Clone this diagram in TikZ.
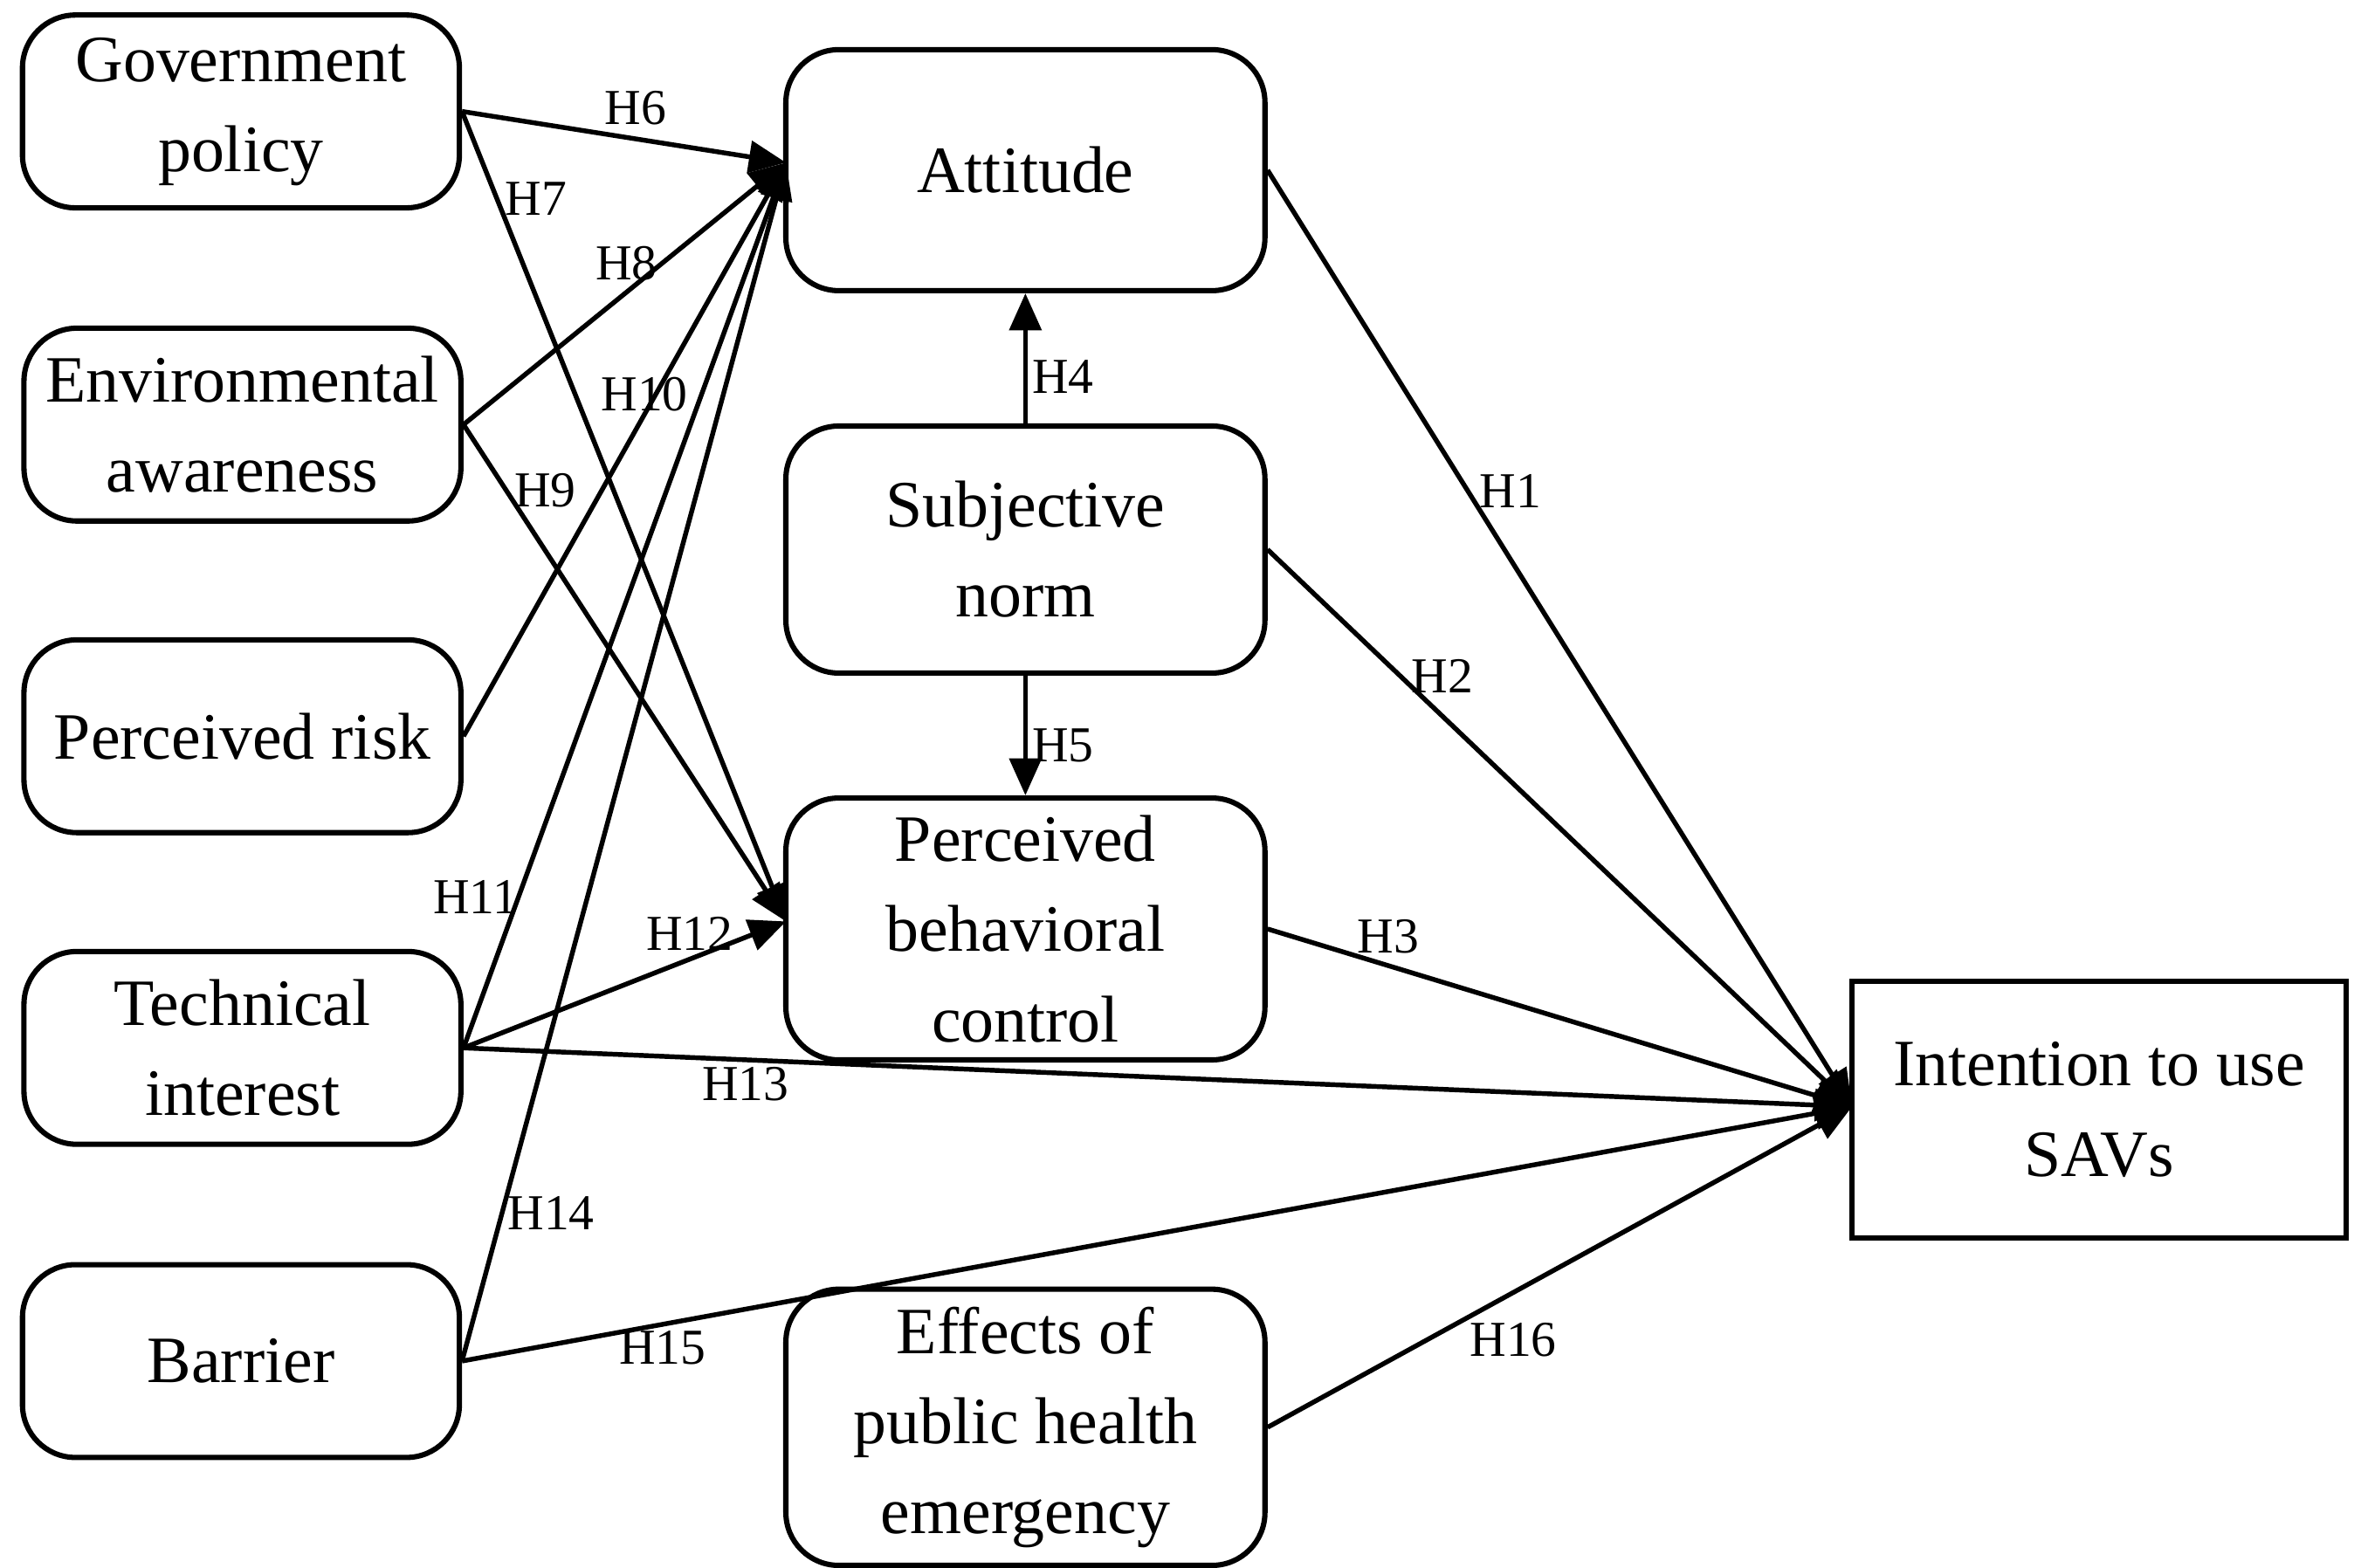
\documentclass[tikz,border=0pt]{standalone}
\usepackage{fontspec}
\setmainfont{Liberation Serif}
\usetikzlibrary{arrows.meta}
\tikzset{
    box/.style={draw, rounded corners=10pt, line width=1pt, align=center, font=\fontsize{12.5}{17}\selectfont},
    link/.style={line width=0.9pt, -{Triangle[length=7pt, width=6pt]}},
    hyp/.style={font=\fontsize{9.5}{11}\selectfont, inner sep=1pt}
}
\begin{document}
\begin{tikzpicture}[x=0.01cm, y=-0.01cm]
    \useasboundingbox (0,0) rectangle (1568,1041);

    % left column
    \node[box, minimum width=2.9cm, minimum height=1.28cm] (gov) at (160,74) {Government\\policy};
    \node[box, minimum width=2.9cm, minimum height=1.28cm] (env) at (161,282) {Environmental\\awareness};
    \node[box, minimum width=2.9cm, minimum height=1.28cm] (risk) at (161,489) {Perceived risk};
    \node[box, minimum width=2.9cm, minimum height=1.28cm] (tech) at (161,696) {Technical\\interest};
    \node[box, minimum width=2.9cm, minimum height=1.28cm] (bar) at (160,904) {Barrier};

    % middle column
    \node[box, minimum width=3.18cm, minimum height=1.6cm] (att) at (681,113) {Attitude};
    \node[box, minimum width=3.18cm, minimum height=1.64cm] (subj) at (681,365) {Subjective\\norm};
    \node[box, minimum width=3.18cm, minimum height=1.6cm] (pbc) at (681,617) {Perceived\\behavioral\\control};
    \node[box, minimum width=3.18cm, minimum height=1.6cm] (eff) at (681,948) {Effects of\\public health\\emergency};

    % outcome
    \node[box, rounded corners=0pt, minimum width=3.28cm, minimum height=1.7cm] (int) at (1394,737) {Intention to use\\SAVs};

    \coordinate (attin) at (522,108);
    \coordinate (pbcin) at (522,612);
    \coordinate (intin) at (1230,735);

    \draw[link] (gov.east) -- (attin);
    \draw[link] (gov.east) -- (pbcin);
    \draw[link] (env.east) -- (attin);
    \draw[link] (env.east) -- (pbcin);
    \draw[link] (risk.east) -- (attin);
    \draw[link] (tech.east) -- (attin);
    \draw[link] (tech.east) -- (pbcin);
    \draw[link] (tech.east) -- (intin);
    \draw[link] (bar.east) -- (attin);
    \draw[link] (bar.east) -- (intin);

    \draw[link] (att.east) -- (intin);
    \draw[link] (subj.east) -- (intin);
    \draw[link] (pbc.east) -- (intin);
    \draw[link] (eff.east) -- (intin);

    \draw[link] (subj.north) -- (att.south);
    \draw[link] (subj.south) -- (pbc.north);

    \node[hyp] at (422,72) {H6};
    \node[hyp] at (356,132) {H7};
    \node[hyp] at (416,175) {H8};
    \node[hyp] at (362,326) {H9};
    \node[hyp] at (428,262) {H10};
    \node[hyp] at (316,596) {H11};
    \node[hyp] at (458,620) {H12};
    \node[hyp] at (495,720) {H13};
    \node[hyp] at (366,806) {H14};
    \node[hyp] at (440,895) {H15};
    \node[hyp] at (1003,326) {H1};
    \node[hyp] at (958,449) {H2};
    \node[hyp] at (922,622) {H3};
    \node[hyp] at (706,250) {H4};
    \node[hyp] at (706,495) {H5};
    \node[hyp] at (1005,890) {H16};
\end{tikzpicture}
\end{document}
